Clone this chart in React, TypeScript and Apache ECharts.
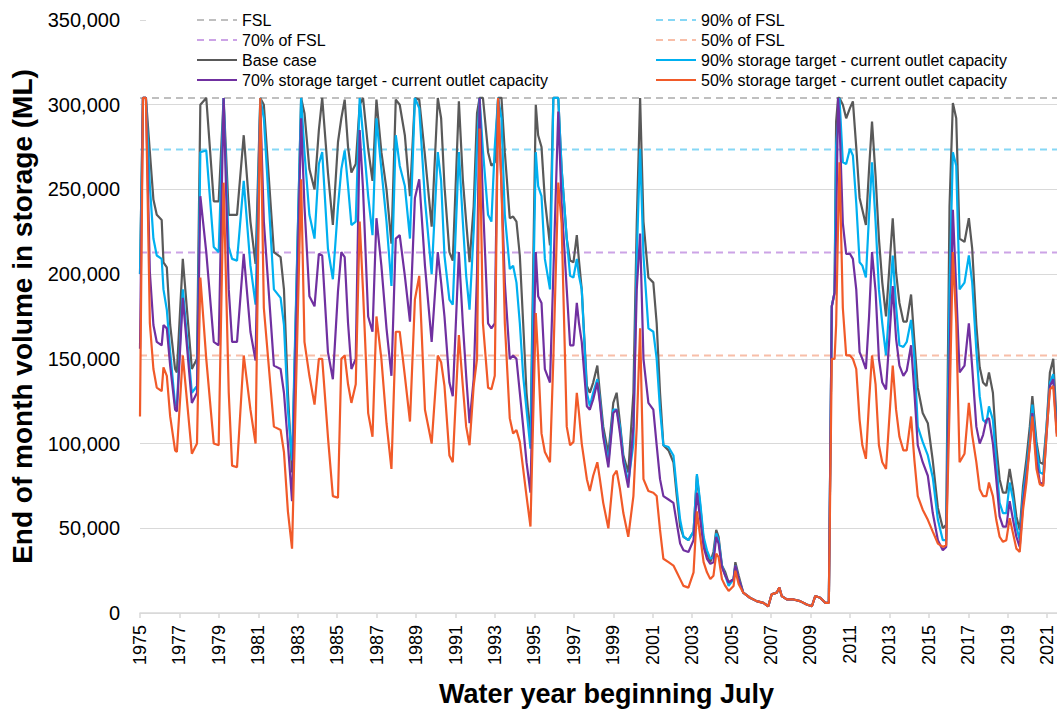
import React, { useEffect, useRef } from 'react';
import * as echarts from 'echarts';

// Time of each end-of-month sample (decimal year; water years begin in July)
const years = [
  1975.0, 1975.15, 1975.3, 1975.5, 1975.68, 1975.85, 1976.1, 1976.19, 1976.36, 1976.53, 1976.78, 1976.87, 1977.17, 1977.63, 1977.89, 1978.06, 1978.36, 1978.74, 1978.99, 1979.24, 1979.5, 1979.67, 1979.92, 1980.26, 1980.6, 1980.86, 1981.1, 1981.28, 1981.79, 1982.13, 1982.3, 1982.5, 1982.71,
  1983.17, 1983.34, 1983.59, 1983.85, 1984.07, 1984.24, 1984.53, 1984.78, 1985.04, 1985.21, 1985.38, 1985.55, 1985.72, 1985.94, 1986.14, 1986.31, 1986.57, 1986.79, 1986.99, 1987.24, 1987.5, 1987.75, 1987.97, 1988.17, 1988.43, 1988.69, 1988.94, 1989.16, 1989.45, 1989.79, 1990.1,
  1990.27, 1990.44, 1990.69, 1990.86, 1991.17, 1991.37, 1991.54, 1991.71, 1991.92, 1992.09, 1992.22, 1992.39, 1992.65, 1992.82, 1992.99, 1993.16, 1993.33, 1993.5, 1993.75, 1993.92, 1994.09, 1994.26, 1994.43, 1994.6, 1994.8, 1995.07, 1995.19, 1995.36, 1995.53, 1995.79, 1995.96, 1996.21, 1996.38, 1996.64, 1996.81, 1996.98, 1997.15, 1997.26, 1997.4, 1997.66,
  1997.81, 1997.98, 1998.19, 1998.32, 1998.49, 1998.75, 1999.0, 1999.17, 1999.34, 1999.51, 1999.76, 2000.02, 2000.19, 2000.36, 2000.53, 2000.78, 2001.03, 2001.2, 2001.37, 2001.54, 2001.8, 2002.05, 2002.22, 2002.39, 2002.56, 2002.81, 2003.07, 2003.24, 2003.41, 2003.58, 2003.75, 2003.92, 2004.08, 2004.22, 2004.34, 2004.51, 2004.68, 2004.85, 2005.1, 2005.19, 2005.36,
  2005.59, 2005.93, 2006.27, 2006.61, 2006.86, 2007.03, 2007.29, 2007.42, 2007.54, 2007.8, 2008.14, 2008.47, 2008.81, 2009.07, 2009.24, 2009.49, 2009.75, 2009.93, 2010.08, 2010.22, 2010.3, 2010.4, 2010.47, 2010.64, 2010.81, 2011.0, 2011.15, 2011.32, 2011.49, 2011.63, 2011.81, 2011.97, 2012.12, 2012.3, 2012.47, 2012.64, 2012.83,
  2013.17, 2013.34, 2013.51, 2013.71, 2013.88, 2014.1, 2014.27, 2014.44, 2014.69, 2014.95, 2015.2, 2015.46, 2015.71, 2015.88, 2016.05, 2016.22, 2016.39, 2016.56, 2016.81, 2017.03, 2017.2, 2017.41, 2017.58, 2017.75, 2017.92, 2018.05, 2018.25, 2018.42, 2018.59, 2018.76, 2018.93, 2019.1, 2019.27, 2019.44, 2019.61, 2019.78, 2019.95, 2020.12, 2020.25, 2020.46, 2020.63, 2020.8, 2020.97, 2021.14, 2021.31, 2021.49,
];

// Storage volumes, thousand ML
const baseCase = [
  200, 304, 304, 272, 244, 235, 232, 207, 204, 170, 144, 142, 209, 144, 150, 300, 304, 243, 243, 304, 235, 235, 235, 282, 231, 206, 304, 300, 213, 210, 191, 130, 83,
  304, 295, 262, 250, 285, 304, 260, 229, 278, 292, 303, 275, 260, 265, 300, 304, 274, 255, 303, 272, 250, 218, 303, 300, 282, 246, 304, 303, 270, 228, 304,
  292, 252, 213, 208, 302, 256, 231, 207, 240, 295, 304, 304, 272, 264, 266, 304, 304, 272, 233, 234, 231, 211, 171, 130, 103, 300, 282, 275, 244, 217, 304, 304, 262, 221, 208, 207, 223, 208, 191, 134,
  130, 136, 146, 130, 110, 94, 124, 130, 112, 93, 83, 130, 230, 304, 231, 198, 195, 171, 130, 99, 96, 89, 69, 51, 45, 43, 48, 81, 63, 43, 35, 30, 36, 49, 45, 28, 24, 18, 20, 30, 22,
  12, 9, 7, 6, 4, 11, 12, 15, 10, 8, 8, 7, 5, 4, 10, 9, 6, 6, 181, 189, 290, 304, 304, 300, 292, 298, 302, 275, 245, 238, 229, 262, 290, 258, 221, 195, 175,
  233, 201, 183, 172, 172, 188, 160, 133, 118, 112, 90, 62, 50, 52, 240, 301, 292, 221, 219, 233, 215, 170, 145, 136, 134, 142, 130, 99, 79, 71, 71, 85, 73, 57, 49, 75, 91, 110, 128, 101, 89, 88, 110, 142, 150, 110,
];

const target90 = [
  200, 304, 304, 252, 221, 211, 209, 191, 179, 154, 123, 122, 191, 130, 134, 272, 273, 216, 213, 304, 216, 209, 208, 255, 205, 182, 304, 292, 191, 186, 170, 120, 90,
  304, 272, 235, 221, 265, 272, 215, 197, 240, 262, 273, 252, 229, 231, 304, 282, 246, 223, 292, 262, 231, 193, 282, 264, 252, 221, 304, 298, 244, 200, 272,
  255, 211, 185, 182, 272, 231, 199, 179, 225, 275, 304, 273, 235, 231, 275, 304, 292, 235, 203, 205, 195, 171, 140, 120, 97, 272, 252, 246, 209, 191, 304, 304, 262, 221, 199, 198, 209, 199, 191, 130,
  122, 130, 138, 126, 106, 89, 120, 120, 110, 91, 77, 100, 211, 274, 211, 168, 166, 150, 120, 99, 98, 93, 73, 55, 45, 43, 48, 82, 65, 45, 37, 32, 33, 47, 43, 28, 22, 16, 20, 28, 20,
  12, 9, 7, 6, 4, 11, 12, 15, 10, 8, 8, 7, 5, 4, 10, 9, 6, 6, 181, 189, 276, 290, 304, 266, 265, 274, 270, 242, 207, 205, 198, 235, 266, 231, 191, 171, 152,
  211, 181, 158, 157, 160, 173, 150, 110, 101, 93, 80, 55, 43, 43, 191, 272, 264, 191, 195, 211, 195, 155, 128, 114, 112, 122, 114, 89, 65, 59, 59, 77, 67, 51, 43, 70, 85, 103, 123, 98, 83, 82, 110, 136, 141, 108,
];

const target70 = [
  156, 304, 304, 201, 170, 160, 158, 170, 168, 146, 120, 119, 186, 124, 130, 246, 213, 160, 158, 304, 191, 160, 160, 212, 166, 149, 300, 231, 146, 144, 130, 100, 66,
  292, 240, 187, 181, 212, 211, 154, 138, 190, 213, 210, 171, 144, 150, 285, 250, 175, 166, 233, 205, 168, 140, 221, 223, 199, 172, 245, 256, 205, 160, 213,
  195, 175, 136, 128, 213, 171, 140, 112, 138, 200, 304, 242, 171, 168, 171, 304, 252, 195, 150, 152, 150, 130, 110, 89, 71, 213, 187, 183, 144, 136, 200, 296, 242, 191, 158, 158, 183, 171, 160, 122,
  120, 126, 136, 124, 104, 86, 118, 120, 106, 89, 74, 110, 191, 224, 150, 124, 120, 99, 79, 69, 67, 65, 53, 41, 37, 36, 43, 71, 55, 39, 32, 29, 30, 45, 41, 27, 22, 18, 20, 28, 20,
  12, 9, 7, 6, 4, 11, 12, 15, 10, 8, 8, 7, 5, 4, 10, 9, 6, 6, 181, 189, 225, 304, 290, 230, 212, 212, 209, 191, 154, 150, 144, 175, 213, 190, 150, 136, 132,
  193, 162, 146, 140, 143, 158, 130, 99, 89, 81, 59, 43, 37, 39, 150, 238, 191, 142, 146, 171, 145, 110, 100, 105, 114, 115, 100, 79, 57, 51, 51, 66, 55, 45, 39, 65, 81, 99, 118, 90, 77, 76, 105, 134, 138, 106,
];

const target50 = [
  116, 304, 304, 171, 144, 133, 131, 145, 140, 116, 96, 95, 152, 94, 100, 198, 150, 100, 99, 254, 130, 87, 86, 152, 120, 100, 304, 180, 110, 108, 95, 60, 38,
  256, 160, 140, 123, 150, 150, 104, 69, 68, 150, 152, 135, 124, 135, 231, 190, 118, 104, 175, 150, 112, 85, 166, 166, 140, 113, 185, 199, 120, 100, 152,
  148, 134, 93, 89, 164, 134, 110, 99, 134, 150, 286, 171, 133, 132, 140, 304, 252, 171, 115, 106, 108, 101, 85, 69, 51, 177, 150, 106, 95, 89, 150, 254, 230, 110, 99, 101, 130, 118, 100, 79,
  72, 81, 89, 79, 65, 50, 81, 84, 73, 59, 45, 69, 110, 168, 79, 72, 71, 69, 49, 32, 30, 28, 24, 20, 16, 15, 24, 60, 45, 30, 24, 20, 22, 35, 33, 20, 16, 13, 16, 25, 17,
  12, 9, 7, 6, 4, 11, 12, 15, 10, 8, 8, 7, 5, 4, 10, 9, 6, 6, 150, 150, 170, 230, 266, 180, 152, 152, 150, 144, 114, 99, 91, 125, 152, 135, 99, 89, 85,
  146, 120, 104, 96, 96, 116, 90, 69, 61, 55, 48, 41, 39, 40, 120, 213, 171, 89, 94, 124, 105, 89, 73, 69, 69, 77, 69, 55, 45, 42, 43, 56, 47, 38, 36, 61, 77, 99, 116, 85, 76, 75, 106, 132, 134, 104,
];

const refNames = ['FSL', '90% of FSL', '70% of FSL', '50% of FSL'];
const refLevels = [304000, 273600, 212800, 152000];
const refColors = ['#bfbfbf', '#86d7f5', '#cca3e6', '#f8bea8'];

const seriesNames = [
  'Base case',
  '90% storage target - current outlet capacity',
  '70% storage target - current outlet capacity',
  '50% storage target - current outlet capacity',
];
const seriesValues = [baseCase, target90, target70, target50];
const seriesColors = ['#595959', '#00b0f0', '#7030a0', '#f15a29'];

const START_YEAR = 1975;
const SPAN_YEARS = 46.5;
const FONT = '"Liberation Sans", Arial, Helvetica, sans-serif';

const fmtThousands = (v: number) => String(v).replace(/\B(?=(\d{3})+(?!\d))/g, ',');

export default function App() {
  const ref = useRef<HTMLDivElement>(null);

  useEffect(() => {
    if (!ref.current) return;
    const chart = echarts.init(ref.current, undefined, { renderer: 'svg' });

    const refSeries = refNames.map((name, i) => ({
      name,
      type: 'line',
      data: [
        [0, refLevels[i]],
        [SPAN_YEARS, refLevels[i]],
      ],
      symbol: 'none',
      showSymbol: false,
      silent: true,
      z: 1,
      lineStyle: { color: refColors[i], width: 2, type: [7, 5] },
      itemStyle: { color: refColors[i] },
    }));

    const dataSeries = seriesNames.map((name, s) => ({
      name,
      type: 'line',
      data: years.map((y, i) => [+(y - START_YEAR).toFixed(3), seriesValues[s][i] * 1000]),
      symbol: 'none',
      showSymbol: false,
      z: 3 + s,
      lineStyle: { color: seriesColors[s], width: 2.2 },
      itemStyle: { color: seriesColors[s] },
    }));

    const legendCommon = {
      orient: 'vertical',
      padding: 0,
      itemWidth: 40,
      itemHeight: 14,
      itemGap: 4,
      top: 12,
      itemStyle: { opacity: 0, borderWidth: 0 },
      textStyle: { fontSize: 16, color: '#000', fontFamily: FONT },
    };

    chart.setOption({
      animation: false,
      backgroundColor: '#ffffff',
      textStyle: { fontFamily: FONT },
      grid: { left: 140, right: 0, top: 20, bottom: 97, containLabel: false },
      graphic: [
        {
          type: 'rect',
          z: 1,
          shape: { x: 146, y: 8, width: 911, height: 82 },
          style: { fill: '#ffffff' },
          silent: true,
        },
      ],
      legend: [
        { ...legendCommon, left: 196, data: ['FSL', '70% of FSL', seriesNames[0], seriesNames[2]] },
        { ...legendCommon, left: 655, data: ['90% of FSL', '50% of FSL', seriesNames[1], seriesNames[3]] },
      ],
      xAxis: {
        type: 'value',
        min: 0,
        max: SPAN_YEARS,
        interval: 2,
        axisLine: { show: true, lineStyle: { color: '#d9d9d9', width: 1.5 } },
        axisTick: { show: true, length: 5, lineStyle: { color: '#d9d9d9', width: 1.5 } },
        splitLine: { show: false },
        axisLabel: {
          rotate: 90,
          margin: 12,
          fontSize: 18,
          color: '#000',
          fontFamily: FONT,
          showMaxLabel: false,
          formatter: (v: number) => (Number.isInteger(v) ? String(START_YEAR + v) : ''),
        },
        name: 'Water year beginning July',
        nameLocation: 'middle',
        nameGap: 67,
        nameTextStyle: { fontSize: 27, fontWeight: 'bold', color: '#000', fontFamily: FONT, padding: [0, 0, 0, 16] },
      },
      yAxis: {
        type: 'value',
        min: 0,
        max: 350000,
        interval: 50000,
        axisLine: { show: false },
        axisTick: { show: false },
        splitLine: { show: true, lineStyle: { color: '#d9d9d9', width: 1 } },
        axisLabel: { fontSize: 20, color: '#000', margin: 20, fontFamily: FONT, formatter: fmtThousands },
        name: 'End of month volume in storage (ML)',
        nameLocation: 'middle',
        nameRotate: 90,
        nameGap: 102,
        nameTextStyle: { fontSize: 28, fontWeight: 'bold', color: '#000', fontFamily: FONT },
      },
      series: [...refSeries, ...dataSeries],
    });

    return () => chart.dispose();
  }, []);

  return (
    <div
      ref={ref}
      style={{ position: 'fixed', left: 0, top: 0, width: 1057, height: 712, background: '#fff' }}
    />
  );
}
